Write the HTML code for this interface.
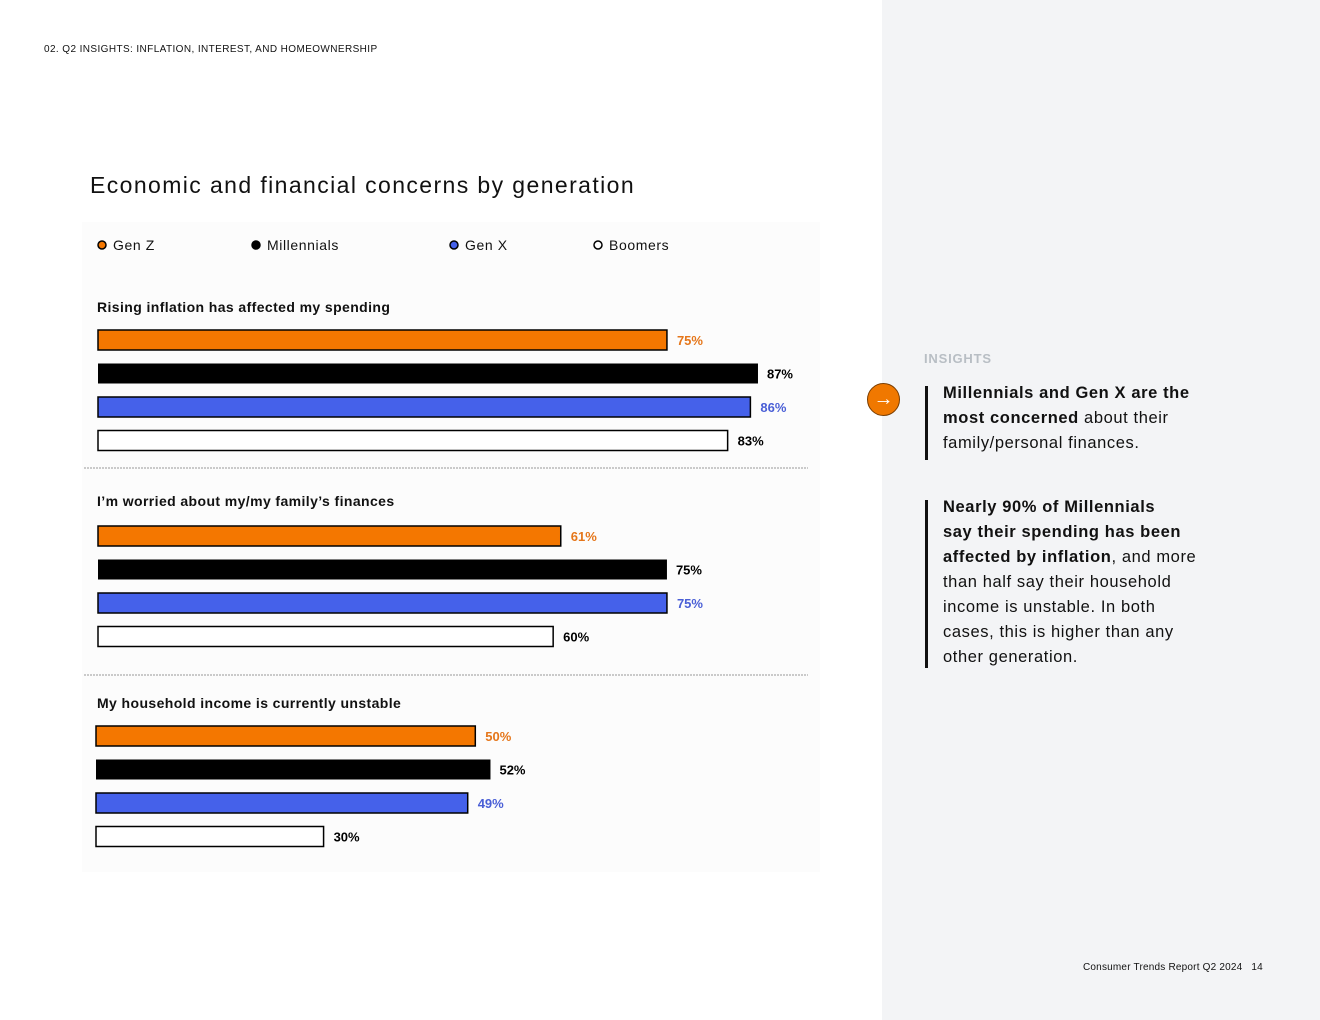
<!DOCTYPE html>
<html><head><meta charset="utf-8"><style>
body{margin:0;width:1320px;height:1020px;position:relative;background:#fff;font-family:"Liberation Sans",sans-serif;overflow:hidden}
.abs{position:absolute}
#right{left:882px;top:0;width:438px;height:1020px;background:#f3f4f6}
.ins{font-size:16.5px;line-height:25px;color:#111;letter-spacing:0.6px;white-space:nowrap}
.bar-line{position:absolute;left:925px;width:3px;background:#111}
</style></head><body>
<div class="abs" style="left:44px;top:44px;font-size:10px;color:#111;letter-spacing:0.4px">02. Q2 INSIGHTS: INFLATION, INTEREST, AND HOMEOWNERSHIP</div>
<div class="abs" style="left:82px;top:222px;width:738px;height:650px;background:#fcfcfc"></div>
<div class="abs" style="left:90px;top:172px;font-size:23px;color:#111;letter-spacing:1.4px">Economic and financial concerns by generation</div>
<div id="right" class="abs"></div>
<svg id="chart" class="abs" style="left:0;top:0" width="882" height="1020"></svg>
<div class="abs" style="left:924px;top:351px;font-size:13px;font-weight:bold;color:#b8bec4;letter-spacing:0.8px">INSIGHTS</div>
<div class="abs" style="left:867px;top:383px;width:31px;height:31px;border-radius:50%;background:#f07800;border:1px solid #7a3d00;color:#fff;font-size:20px;line-height:30px;text-align:center">→</div>
<div class="bar-line" style="top:386px;height:74px"></div>
<div class="abs ins" style="left:943px;top:381px"><b>Millennials and Gen X are the</b><br><b>most concerned</b> about their<br>family/personal finances.</div>
<div class="bar-line" style="top:500px;height:168px"></div>
<div class="abs ins" style="left:943px;top:495px"><b>Nearly 90% of Millennials</b><br><b>say their spending has been</b><br><b>affected by inflation</b>, and more<br>than half say their household<br>income is unstable. In both<br>cases, this is higher than any<br>other generation.</div>
<div class="abs" style="left:1083px;top:962px;font-size:10px;color:#111;letter-spacing:0.2px">Consumer Trends Report Q2 2024&nbsp;&nbsp;&nbsp;14</div>
<script>
const series=["Gen Z","Millennials","Gen X","Boomers"];
const questions=["Rising inflation has affected my spending","I’m worried about my/my family’s finances","My household income is currently unstable"];
const genZ=[75,61,50];
const millennials=[87,75,52];
const genX=[86,75,49];
const boomers=[83,60,30];
const fills=["#f47700","#000","#4561ea","#fff"];
const labelColors=["#e5761a","#000","#4a5fd6","#000"];
const NS="http://www.w3.org/2000/svg";
const svg=document.getElementById('chart');
function mk(t,a){const e=document.createElementNS(NS,t);for(const k in a)e.setAttribute(k,a[k]);svg.appendChild(e);return e;}
const groupTops=[330,526,726];const groupX=[98,98,96];const pxPer=7.586;
function xs(v,g){return groupX[g]+v*pxPer;}
const legendX=[97,251,449,593];
series.forEach((s,i)=>{
 const c=mk('circle',{cx:legendX[i]+5,cy:245,r:4,fill:i==3?'#fff':fills[i],stroke:'#000','stroke-width':1.5});
 
 const t=mk('text',{x:legendX[i]+16,y:250,'font-size':14,fill:'#111','letter-spacing':0.6});t.textContent=s;
 
});
const all=[genZ,millennials,genX,boomers];
const titleY=[312,506,708];
questions.forEach((q,g)=>{
 const t=mk('text',{x:97,y:titleY[g],'font-size':14,'font-weight':'bold',fill:'#111','letter-spacing':0.4});t.textContent=q;
 
 all.forEach((arr,i)=>{
  const y=groupTops[g]+i*33.5;const v=arr[g];
  const r=mk('rect',{x:groupX[g],y:y,width:v*pxPer,height:20,fill:fills[i],stroke:'#000','stroke-width':i==1?0:1.5});
  
  const l=mk('text',{x:xs(v,g)+(i==1?9:10),y:y+15,'font-size':13,'font-weight':'bold',fill:labelColors[i]});l.textContent=v+'%';
  
 });
});
[468,675].forEach(y=>{const d=mk('line',{x1:84,x2:808,y1:y,y2:y,stroke:'#999','stroke-dasharray':'2,1','stroke-width':1});
 });
</script>
</body></html>
